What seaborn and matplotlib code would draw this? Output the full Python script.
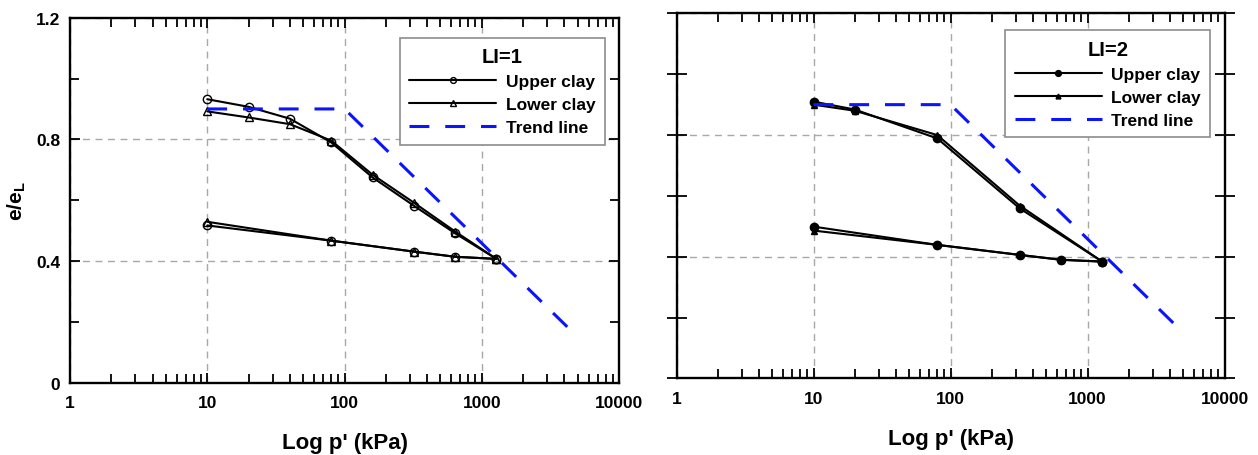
import numpy as np
import pandas as pd
import matplotlib
matplotlib.use("Agg")
import matplotlib.pyplot as plt
import seaborn as sns
from matplotlib.ticker import LogLocator, FixedLocator, NullFormatter

# ---- data: e/eL versus effective vertical stress p' (kPa) ----
# LI = 1
p_load_1 = [10, 20, 40, 80, 160, 320, 640, 1280]
upper_load_1 = [0.932, 0.907, 0.868, 0.790, 0.675, 0.582, 0.491, 0.407]
lower_load_1 = [0.892, 0.872, 0.850, 0.796, 0.684, 0.592, 0.497, 0.407]
p_unload_1 = [1280, 640, 320, 80, 10]
upper_unload_1 = [0.407, 0.414, 0.431, 0.467, 0.517]
lower_unload_1 = [0.407, 0.414, 0.431, 0.467, 0.529]

# LI = 2
p_load_2 = [10, 20, 80, 320, 1280]
upper_load_2 = [0.910, 0.884, 0.789, 0.559, 0.384]
lower_load_2 = [0.900, 0.880, 0.800, 0.568, 0.384]
p_unload_2 = [1280, 640, 320, 80, 10]
upper_unload_2 = [0.384, 0.390, 0.406, 0.439, 0.499]
lower_unload_2 = [0.384, 0.390, 0.406, 0.439, 0.486]

# trend line (same in both panels)
p_trend = [10, 100, 5000]
e_trend = [0.90, 0.90, 0.15]

x_ticks = [1, 10, 100, 1000, 10000]
x_tick_labels = ["1", "10", "100", "1000", "10000"]
y_ticks = [0, 0.4, 0.8, 1.2]
y_tick_labels = ["0", "0.4", "0.8", "1.2"]
y_minor = [0.2, 0.6, 1.0]

sns.set_theme(style="ticks")
plt.rcParams["font.family"] = ["Liberation Sans", "DejaVu Sans"]
plt.rcParams["font.weight"] = "bold"
plt.rcParams["text.color"] = "black"
plt.rcParams["axes.labelcolor"] = "black"
plt.rcParams["xtick.color"] = "black"
plt.rcParams["ytick.color"] = "black"
plt.rcParams["mathtext.fontset"] = "custom"
plt.rcParams["mathtext.rm"] = "Liberation Sans:bold"
plt.rcParams["mathtext.bf"] = "Liberation Sans:bold"
plt.rcParams["mathtext.it"] = "Liberation Sans:bold"

fig = plt.figure(figsize=(12.58, 4.56), dpi=100)
ax1 = fig.add_axes([70 / 1258, (456 - 383.7) / 456, 549 / 1258, 365 / 456])
ax2 = fig.add_axes([676.5 / 1258, (456 - 379.4) / 456, 548 / 1258, 365 / 456])


def series(ax, p, e, marker, face, ms, label=None):
    df = pd.DataFrame({"p": p, "e": e})
    sns.lineplot(data=df, x="p", y="e", ax=ax, sort=False, estimator=None,
                 color="black", lw=1.5, marker=marker, markersize=ms,
                 markerfacecolor=face, markeredgecolor="black",
                 markeredgewidth=1.0, label=label, legend=False)


def panel(ax, title, pl, ul, ll, pu, uu, lu, filled, show_y, anchor):
    if filled:
        series(ax, pl, ul, "o", "black", 6, "Upper clay")
        series(ax, pl, ll, "^", "black", 5, "Lower clay")
        series(ax, pu, uu, "o", "black", 6)
        series(ax, pu, lu, "^", "black", 5)
    else:
        series(ax, pl, ul, "o", "none", 6, "Upper clay")
        series(ax, pl, ll, "^", "none", 6, "Lower clay")
        series(ax, pu, uu, "o", "none", 6)
        series(ax, pu, lu, "^", "none", 6)
    tdf = pd.DataFrame({"p": p_trend, "e": e_trend})
    sns.lineplot(data=tdf, x="p", y="e", ax=ax, sort=False, estimator=None,
                 color="#0a14ff", lw=2.2, dashes=False, label="Trend line",
                 legend=False)
    ax.lines[-1].set_dashes((6.5, 5.2))

    ax.set_xscale("log")
    ax.set_xlim(1, 10000)
    ax.set_ylim(0, 1.2)
    ax.set_xticks(x_ticks, labels=x_tick_labels)
    ax.xaxis.set_minor_locator(LogLocator(base=10, subs=np.arange(2, 10)))
    ax.xaxis.set_minor_formatter(NullFormatter())
    if show_y:
        ax.set_yticks(y_ticks, labels=y_tick_labels)
    else:
        ax.set_yticks(y_ticks, labels=["", "", "", ""])
    ax.yaxis.set_minor_locator(FixedLocator(y_minor))

    ax.grid(True, which="major", color="#a8a8a8", lw=1.0, ls=(0, (5, 4)))
    ax.set_axisbelow(True)
    for s in ax.spines.values():
        s.set_linewidth(1.7)
        s.set_color("black")
        s.set_visible(True)
    ax.tick_params(which="both", direction="in", top=True, right=True,
                   width=1.3, colors="black", labelsize=12.5)
    ax.tick_params(which="major", length=7)
    ax.tick_params(which="minor", length=6.5)
    ax.tick_params(axis="x", which="major", pad=9)
    ax.tick_params(axis="y", which="major", pad=7)
    if not show_y:
        ax.tick_params(axis="y", which="both", left=True, direction="inout",
                       length=14)
        ax.tick_params(axis="y", which="both", right=True)
    for lab in ax.get_xticklabels() + ax.get_yticklabels():
        lab.set_fontweight("bold")
        lab.set_color("black")

    ax.set_xlabel("Log p' (kPa)", fontsize=16, fontweight="bold",
                  labelpad=16, color="black")
    if show_y:
        ax.set_ylabel(r"e/e$_\mathregular{L}$", fontsize=15, fontweight="bold",
                      labelpad=6, color="black")
    else:
        ax.set_ylabel("")

    leg = ax.legend(title=title, loc="upper right",
                    title_fontproperties={"weight": "bold", "size": 14.5},
                    prop={"weight": "bold", "size": 12.5},
                    handlelength=5.0, handletextpad=0.55, labelspacing=0.45,
                    borderpad=0.55, fancybox=False, framealpha=1,
                    edgecolor="#8c8c8c", markerscale=0.7,
                    bbox_to_anchor=anchor)
    leg.get_frame().set_linewidth(1.2)
    for t in leg.get_texts():
        t.set_color("black")
    leg.get_title().set_color("black")


panel(ax1, "LI=1", p_load_1, upper_load_1, lower_load_1,
      p_unload_1, upper_unload_1, lower_unload_1, filled=False, show_y=True,
      anchor=(0.99, 0.969))
panel(ax2, "LI=2", p_load_2, upper_load_2, lower_load_2,
      p_unload_2, upper_unload_2, lower_unload_2, filled=True, show_y=False,
      anchor=(0.99, 0.977))

fig.savefig("out.png", dpi=100)
